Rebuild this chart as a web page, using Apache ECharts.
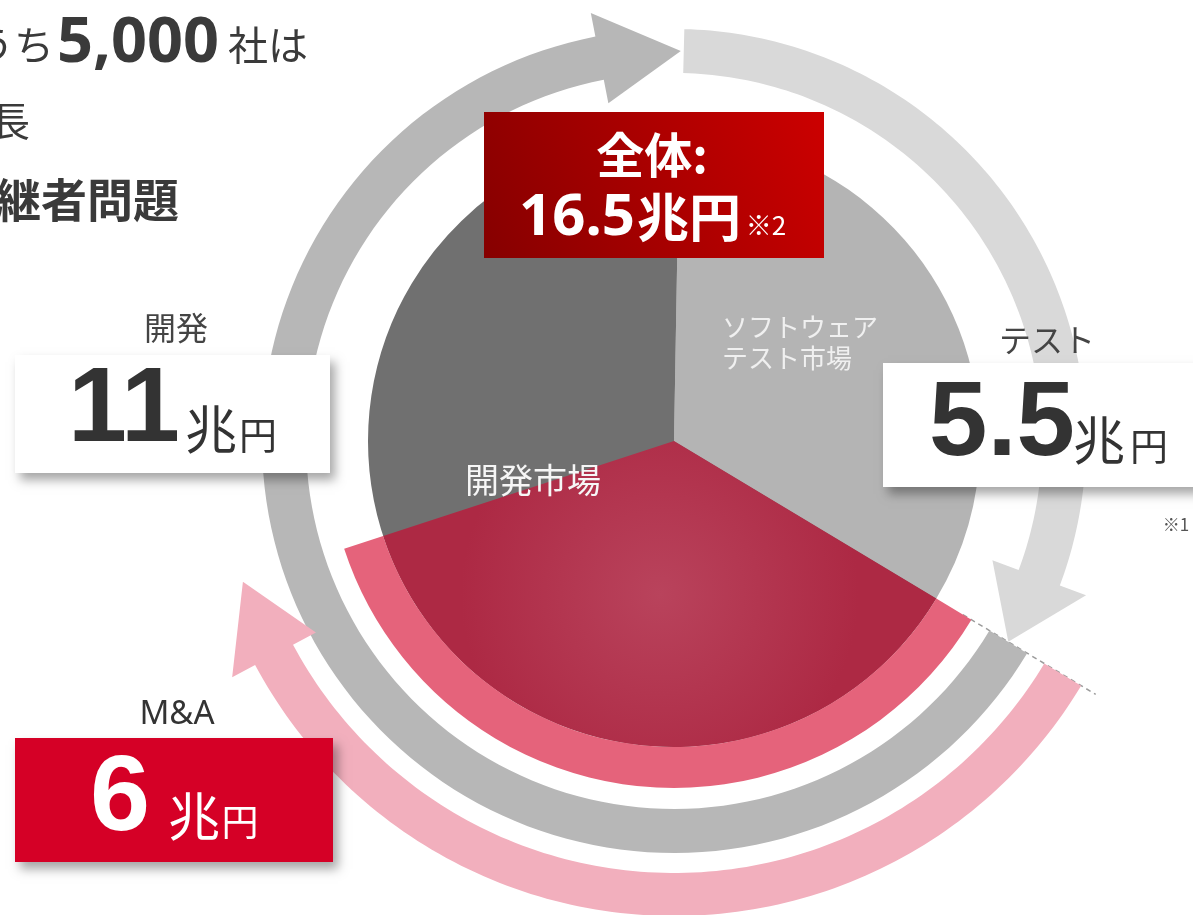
<!DOCTYPE html>
<html>
<head>
<meta charset="utf-8">
<script src="https://cdn.jsdelivr.net/npm/echarts@6/dist/echarts.min.js"></script>
<style>
  html, body { margin: 0; padding: 0; background: #fff; }
  #chart { width: 1193px; height: 915px; }
</style>
</head>
<body>
<div id="chart"></div>
<script>
// 市場規模（兆円）
const segmentNames = ['テスト', '開発', 'M&A'];
const marketValues = [5.5, 11];          // ソフトウェアテスト市場, 開発市場
const maValue = 6;                       // M&A
const sliceLabels = ['ソフトウェア\nテスト市場', '開発市場'];
const unitCho = '兆';
const unitEn = '円';

const total = marketValues[0] + marketValues[1];
const testEnd = marketValues[0];
const maEnd = testEnd + maValue;

// ring radii in polar units (1 unit = 1px)
const PIE_R = 306, MA_R = 347;
const RING_IN = 368, RING_OUT = 412;
const OUT_IN = 432, OUT_OUT = 475;

const CJK = '"Noto Sans CJK JP", "Noto Sans", sans-serif';

function angleOf(api, c, a) {
  const p = api.coord([100, a]);
  return Math.atan2(p[1] - c[1], p[0] - c[0]);
}

function sector(api, a0, a1, r0, r1, fill) {
  const c = api.coord([0, a0]);
  let s = angleOf(api, c, a0);
  let e = angleOf(api, c, a1);
  while (e <= s) e += Math.PI * 2;
  const pr = api.coord([r1, a0]);
  const pr0 = api.coord([r0, a0]);
  return {
    type: 'sector',
    shape: {
      cx: c[0], cy: c[1],
      r: Math.hypot(pr[0] - c[0], pr[1] - c[1]),
      r0: r0 > 0 ? Math.hypot(pr0[0] - c[0], pr0[1] - c[1]) : 0,
      startAngle: s, endAngle: e, clockwise: true
    },
    style: { fill: fill }
  };
}

// curved arrow: shaft from a0 to the head base, tip at a1
function arrow(api, a0, a1, headLen, rIn, rOut, wing, fill) {
  const base = a1 - headLen;
  const pts = [];
  const n = 120;
  for (let i = 0; i <= n; i++) pts.push(api.coord([rOut, a0 + (base - a0) * i / n]));
  pts.push(api.coord([rOut + wing, base]));
  pts.push(api.coord([(rIn + rOut) / 2, a1]));
  pts.push(api.coord([rIn - wing, base]));
  for (let i = n; i >= 0; i--) pts.push(api.coord([rIn, a0 + (base - a0) * i / n]));
  return { type: 'polygon', shape: { points: pts }, style: { fill: fill } };
}

const maGradient = new echarts.graphic.RadialGradient(0.5, 0.5, 0.65, [
  { offset: 0, color: '#b9435c' },
  { offset: 1, color: '#ad2944' }
]);

// [start, end] on the angle axis for each drawn mark
const pieData = [
  { value: [0, testEnd], color: '#b4b4b4' },
  { value: [testEnd, total], color: '#707070' }
];
const maData = [
  { value: [testEnd, maEnd, 0, PIE_R], color: maGradient },
  { value: [testEnd, maEnd, PIE_R, MA_R], color: '#e5637b' }
];
// [start, tip, head length, inner r, outer r, wing]
const arrowData = [
  { value: [0.02, testEnd, 0.48, RING_IN, RING_OUT, 28], color: '#d9d9d9' },
  { value: [testEnd, total, 0.55, RING_IN, RING_OUT, 24], color: '#b7b7b7' },
  { value: [testEnd, maEnd, 0.46, OUT_IN, OUT_OUT, 26], color: '#f2afbd' }
];

const chart = echarts.init(document.getElementById('chart'), null, { renderer: 'canvas' });

function txt(x, y, text, size, color, opts) {
  opts = opts || {};
  return {
    type: 'text', x: x, y: y, z: 110,
    style: {
      text: text,
      fontSize: size,
      fontFamily: opts.family || CJK,
      fontWeight: opts.weight || 'normal',
      fill: color,
      align: opts.align || 'center',
      verticalAlign: 'middle',
      lineHeight: opts.lineHeight
    }
  };
}

const shadowStyle = {
  shadowBlur: 10, shadowColor: 'rgba(0,0,0,0.35)', shadowOffsetX: 5, shadowOffsetY: 7
};

const NUM = '"Liberation Sans", Arial, sans-serif';

chart.setOption({
  animation: false,
  backgroundColor: '#ffffff',
  polar: { center: [674, 441], radius: 500 },
  angleAxis: {
    type: 'value', min: 0, max: total, startAngle: 89, clockwise: true, show: false,
    axisLine: { show: false }, axisTick: { show: false }, axisLabel: { show: false }, splitLine: { show: false }
  },
  radiusAxis: {
    type: 'value', min: 0, max: 500, show: false,
    axisLine: { show: false }, axisTick: { show: false }, axisLabel: { show: false }, splitLine: { show: false }
  },
  series: [
    {
      // boundary between テスト and the rest
      type: 'custom', coordinateSystem: 'polar', z: 1, silent: true,
      data: [[testEnd]],
      renderItem: function (params, api) {
        const a = api.value(0);
        const p0 = api.coord([MA_R - 10, a]);
        const p1 = api.coord([OUT_OUT + 17, a]);
        return {
          type: 'line',
          shape: { x1: p0[0], y1: p0[1], x2: p1[0], y2: p1[1] },
          style: { stroke: '#9c9c9c', lineWidth: 1.5, lineDash: [5, 4] }
        };
      }
    },
    {
      name: '市場', type: 'custom', coordinateSystem: 'polar', z: 2, silent: true,
      data: pieData,
      renderItem: function (params, api) {
        return sector(api, api.value(0), api.value(1), 0, PIE_R, pieData[params.dataIndex].color);
      }
    },
    {
      name: segmentNames[2], type: 'custom', coordinateSystem: 'polar', z: 3, silent: true,
      data: maData,
      renderItem: function (params, api) {
        return sector(api, api.value(0), api.value(1), api.value(2), api.value(3), maData[params.dataIndex].color);
      }
    },
    {
      name: 'flow', type: 'custom', coordinateSystem: 'polar', z: 4, silent: true,
      data: arrowData,
      renderItem: function (params, api) {
        return arrow(api, api.value(0), api.value(1), api.value(2), api.value(3), api.value(4), api.value(5),
          arrowData[params.dataIndex].color);
      }
    }
  ],
  graphic: [
    // heading text
    txt(-26, 45, 'うち', 40, '#3a3a3a', { align: 'left' }),
    txt(57, 44, '5,000', 63, '#3a3a3a', { align: 'left', weight: 'bold', family: '"Noto Sans", sans-serif' }),
    txt(228, 45, '社は', 40, '#3a3a3a', { align: 'left' }),
    txt(-10, 121, '長', 40, '#3a3a3a', { align: 'left' }),
    txt(179, 200, '後継者問題', 46, '#3a3a3a', { align: 'right', weight: 'bold' }),

    // total box
    {
      type: 'rect', z: 100, shape: { x: 484, y: 112, width: 340, height: 146 },
      style: {
        fill: new echarts.graphic.LinearGradient(0, 1, 1, 0, [
          { offset: 0, color: '#860000' }, { offset: 1, color: '#cc0000' }
        ])
      }
    },
    txt(652, 155, '全体:', 48, '#ffffff', { weight: 'bold' }),
    txt(577, 218, String(total), 58, '#ffffff', { weight: 'bold', family: '"Noto Sans", sans-serif' }),
    txt(689, 217, unitCho + unitEn, 52, '#ffffff', { weight: 'bold' }),
    txt(766, 225, '※2', 26, '#ffffff'),

    // slice labels
    txt(722, 343, sliceLabels[0], 26, '#f0f0f0', { align: 'left', lineHeight: 31 }),
    txt(533, 480, sliceLabels[1], 34, '#f6f6f6'),

    // 開発
    txt(176, 328, segmentNames[1], 32, '#444444'),
    { type: 'rect', z: 100, shape: { x: 15, y: 355, width: 315, height: 118 }, style: Object.assign({ fill: '#ffffff' }, shadowStyle) },
    txt(124, 412, String(marketValues[1]), 106, '#333333', { weight: 'bold', family: NUM }),
    txt(211, 429, unitCho, 52, '#333333'),
    txt(258, 435, unitEn, 38, '#333333'),

    // テスト
    txt(1047, 340, segmentNames[0], 32, '#444444'),
    { type: 'rect', z: 100, shape: { x: 883, y: 363, width: 330, height: 124 }, style: Object.assign({ fill: '#ffffff' }, shadowStyle) },
    txt(1002, 426, String(marketValues[0]), 105, '#333333', { weight: 'bold', family: NUM }),
    txt(1099, 440, unitCho, 52, '#333333'),
    txt(1149, 446, unitEn, 38, '#333333'),
    txt(1176, 525, '※1', 17, '#555555'),

    // M&A
    txt(177, 715, segmentNames[2], 33, '#333333', { family: '"Noto Sans", sans-serif' }),
    { type: 'rect', z: 100, shape: { x: 15, y: 738, width: 318, height: 124 }, style: Object.assign({ fill: '#d50026' }, shadowStyle) },
    txt(120, 800, String(maValue), 108, '#ffffff', { weight: 'bold', family: NUM }),
    txt(194, 816, unitCho, 52, '#ffffff'),
    txt(240, 822, unitEn, 37, '#ffffff')
  ]
});
</script>
</body>
</html>
